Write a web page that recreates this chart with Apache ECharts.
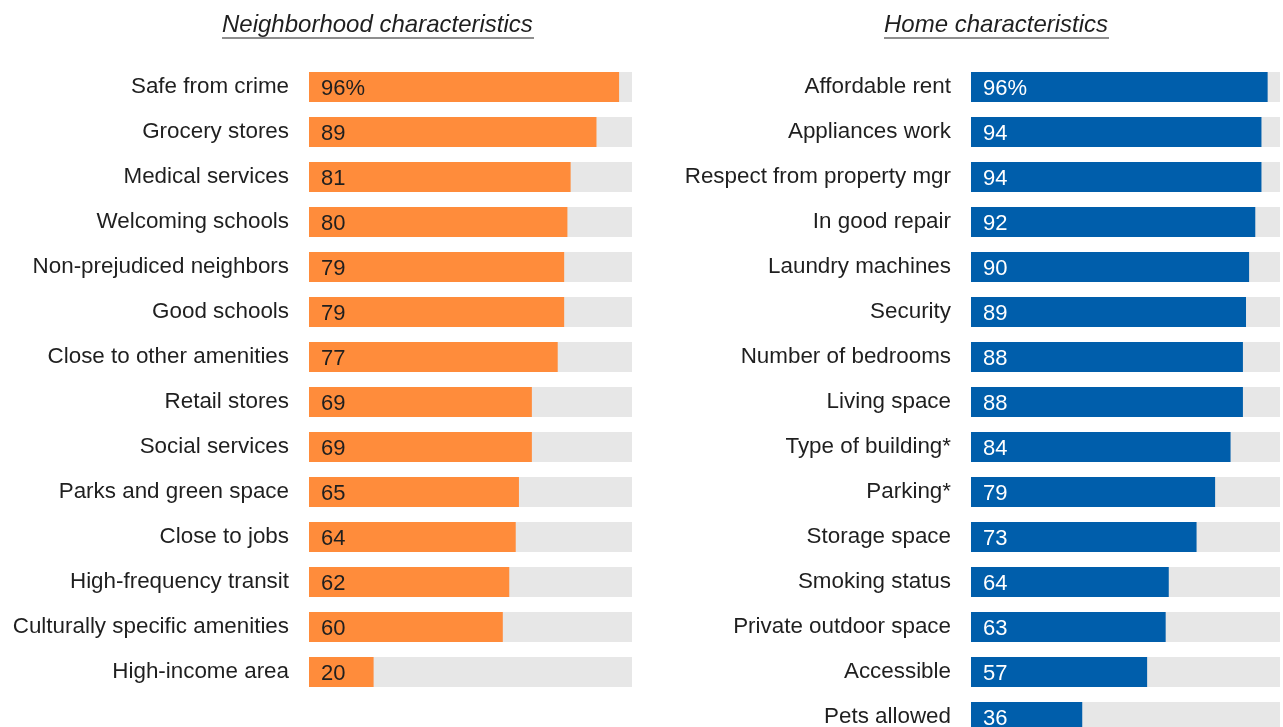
<!DOCTYPE html>
<html>
<head>
<meta charset="utf-8">
<script src="https://cdn.jsdelivr.net/npm/echarts@6/dist/echarts.min.js"></script>
<style>
html,body{margin:0;padding:0;background:#fff;}
#c{width:1283px;height:727px;}
</style>
</head>
<body>
<div id="c"></div>
<script>
const leftTitle = 'Neighborhood characteristics';
const rightTitle = 'Home characteristics';
const leftCategories = ['Safe from crime','Grocery stores','Medical services','Welcoming schools','Non-prejudiced neighbors','Good schools','Close to other amenities','Retail stores','Social services','Parks and green space','Close to jobs','High-frequency transit','Culturally specific amenities','High-income area'];
const leftValues = [96,89,81,80,79,79,77,69,69,65,64,62,60,20];
const rightCategories = ['Affordable rent','Appliances work','Respect from property mgr','In good repair','Laundry machines','Security','Number of bedrooms','Living space','Type of building*','Parking*','Storage space','Smoking status','Private outdoor space','Accessible','Pets allowed'];
const rightValues = [96,94,94,92,90,89,88,88,84,79,73,64,63,57,36];

const FONT = 'Liberation Sans, Arial, sans-serif';
const chart = echarts.init(document.getElementById('c'), null, {renderer:'canvas'});

function yAxis(idx, cats){
  return {type:'category', gridIndex:idx, data:cats, inverse:true,
    axisLine:{show:false}, axisTick:{show:false},
    axisLabel:{fontSize:22.4, fontFamily:FONT, color:'#1f1f1f', margin:20, padding:[4,0,0,0]}};
}
function xAxis(idx){
  return {type:'value', gridIndex:idx, min:0, max:100, show:false, splitLine:{show:false}};
}
function series(idx, vals, color, labelColor){
  return {type:'bar', xAxisIndex:idx, yAxisIndex:idx, data:vals, barWidth:30,
    itemStyle:{color:color},
    showBackground:true, backgroundStyle:{color:'#e7e7e7'},
    label:{show:true, position:'insideLeft', distance:12, fontSize:22, fontFamily:FONT, color:labelColor,
      offset:[0,2],
      formatter:p => p.dataIndex === 0 ? p.value + '%' : String(p.value)},
    animation:false};
}

chart.setOption({
  animation:false,
  grid:[
    {left:309, top:64.5, width:323, height:630, outerBoundsMode:'none'},
    {left:971, top:64.5, width:309, height:675, outerBoundsMode:'none'}
  ],
  xAxis:[xAxis(0), xAxis(1)],
  yAxis:[yAxis(0, leftCategories), yAxis(1, rightCategories)],
  series:[series(0, leftValues, '#FF8C3B', '#1f1f1f'), series(1, rightValues, '#005EAB', '#ffffff')],
  graphic:[
    {type:'text', left:222, top:13, style:{text:leftTitle, font:'italic 24px ' + FONT, fill:'#1f1f1f'}},
    {type:'text', left:884, top:13, style:{text:rightTitle, font:'italic 24px ' + FONT, fill:'#1f1f1f'}},
    {type:'line', shape:{x1:222, y1:38, x2:534, y2:38}, style:{stroke:'#1f1f1f', lineWidth:1.2}},
    {type:'line', shape:{x1:884, y1:38, x2:1109, y2:38}, style:{stroke:'#1f1f1f', lineWidth:1.2}}
  ]
});
</script>
</body>
</html>
